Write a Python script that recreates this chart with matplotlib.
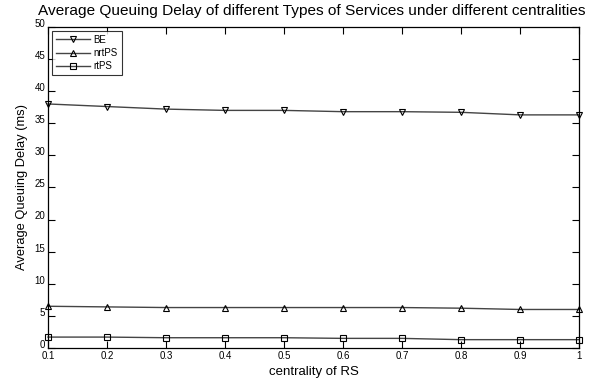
import numpy as np
import matplotlib
matplotlib.use("Agg")
from matplotlib import pyplot as plt
from matplotlib.transforms import ScaledTranslation

plt.rcParams["font.family"] = ["Liberation Sans", "DejaVu Sans"]

centrality = [0.1, 0.2, 0.3, 0.4, 0.5, 0.6, 0.7, 0.8, 0.9, 1.0]
be_delay = [38.0, 37.6, 37.2, 37.0, 37.0, 36.8, 36.8, 36.7, 36.3, 36.3]
nrtps_delay = [6.5, 6.4, 6.3, 6.3, 6.3, 6.3, 6.3, 6.2, 6.0, 6.0]
rtps_delay = [1.7, 1.7, 1.6, 1.6, 1.6, 1.5, 1.5, 1.3, 1.3, 1.3]
x_tick_labels = ["0.1", "0.2", "0.3", "0.4", "0.5", "0.6", "0.7", "0.8", "0.9", "1"]

fig = plt.figure(figsize=(6.06, 3.8), dpi=100)
ax = fig.add_axes([0.0792, 0.0842, 0.8762, 0.845])

series = [("BE", be_delay, "v"), ("nrtPS", nrtps_delay, "^"), ("rtPS", rtps_delay, "s")]
for name, values, marker in series:
    ax.plot(centrality, values, color="#444444", linewidth=1.0, marker=marker,
            markersize=5, markerfacecolor="none", markeredgecolor="black",
            markeredgewidth=0.8, label=name, clip_on=False)

ax.set_xlim(0.1, 1.0)
ax.set_ylim(0, 50)
ax.set_xticks(centrality)
ax.set_xticklabels(x_tick_labels)
ax.set_yticks(np.arange(0, 51, 5))
ax.tick_params(direction="in", top=True, right=True, length=5, width=0.8,
               labelsize=7, pad=2, colors="black")
for spine in ax.spines.values():
    spine.set_linewidth(0.9)

# y tick labels sit a little above their ticks
shift = ScaledTranslation(0, 3 / 72, fig.dpi_scale_trans)
for lbl in ax.get_yticklabels():
    lbl.set_transform(lbl.get_transform() + shift)

fig.text(0.515, 0.972, "Average Queuing Delay of different Types of Services under different centralities",
         fontsize=11.1, ha="center", va="center")
ax.set_xlabel("centrality of RS", fontsize=9.5, labelpad=4)
ax.set_ylabel("Average Queuing Delay (ms)", fontsize=9.3, labelpad=5)

leg = ax.legend(loc="upper left", fontsize=7, frameon=True, fancybox=False,
                edgecolor="black", handlelength=3.5, borderaxespad=0.4,
                labelspacing=0.35, handletextpad=0.4)
leg.get_frame().set_linewidth(0.8)

fig.savefig("out.png", dpi=100)
